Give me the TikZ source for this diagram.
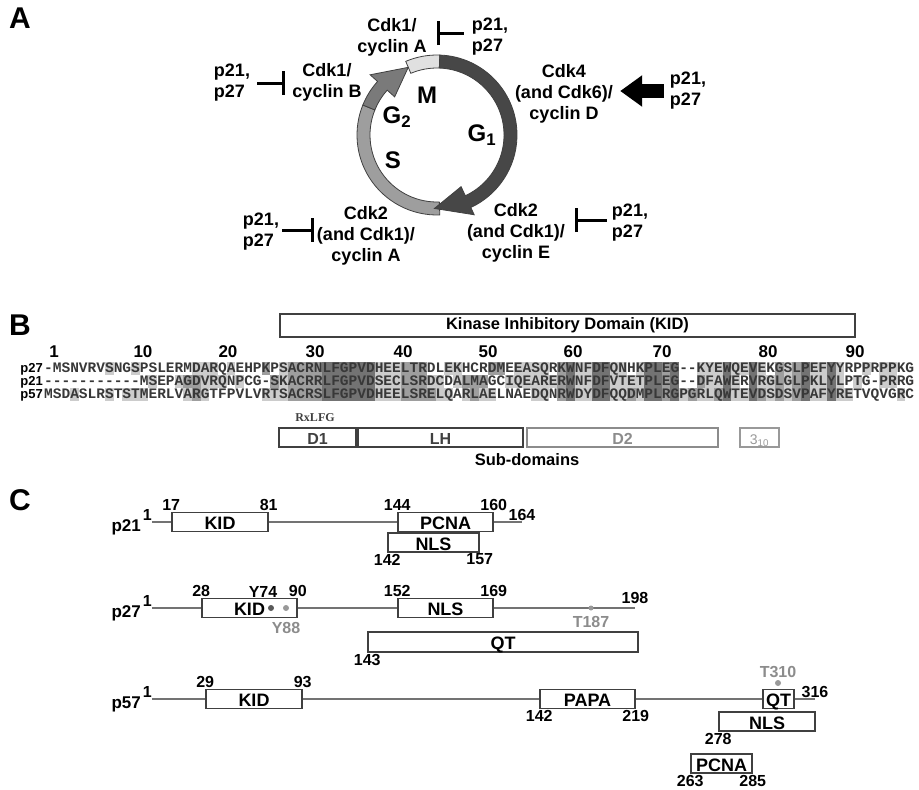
\documentclass[tikz,border=0pt]{standalone}
\usepackage{fontspec}
\setmainfont{Liberation Sans}
\newfontfamily\seqfont[Ligatures=TeXOff]{Liberation Mono}
\newfontfamily\motiffont{Liberation Serif}
\usepackage{tikz}
\usetikzlibrary{arrows.meta,positioning,calc}

\begin{document}
\begin{tikzpicture}[x=1pt, y=1pt,
    panel/.style={font=\bfseries\fontsize{30}{30}\selectfont, inner sep=0pt},
    lbl/.style={font=\bfseries\fontsize{18}{21}\selectfont, align=center, inner sep=0pt},
    plbl/.style={lbl, align=left},
    phase/.style={font=\bfseries\fontsize{24}{24}\selectfont, inner sep=0pt},
    ring/.style={draw=black!75, line width=0.8pt},
    inh/.style={line width=3pt, -{Bar[width=24pt]}},
    act/.style={line width=14pt, -{Triangle[length=22pt, width=30pt]}},
    title/.style={font=\bfseries\fontsize{16.5}{16.5}\selectfont, inner sep=0pt},
    seq/.style={font=\seqfont\bfseries\fontsize{14.5}{14.5}\selectfont, text=black!78, inner sep=0pt},
    rowlbl/.style={font=\bfseries\fontsize{17}{17}\selectfont, inner sep=0pt},
    seqlbl/.style={font=\bfseries\fontsize{13}{13}\selectfont, inner sep=0pt},
    shA/.style={fill=black!20}, shB/.style={fill=black!38}, shC/.style={fill=black!55},
    kidbox/.style={draw=black!75, line width=1.5pt, minimum height=23pt, inner sep=0pt},
    subbox/.style={draw=#1, line width=1.3pt, text=#1, minimum height=19pt, inner sep=0pt,
      text height=14pt, text depth=0pt, font=\bfseries\fontsize{16}{16}\selectfont},
    chain/.style={line width=2pt, draw=black!55},
    dom/.style={draw=black!75, line width=1.5pt, fill=white, minimum height=19pt, inner sep=0pt,
      text height=15pt, text depth=0pt, font=\bfseries\fontsize{18}{18}\selectfont},
    num/.style={font=\bfseries\fontsize{16}{16}\selectfont, inner sep=1pt},
    site/.style={circle, fill=black!40, inner sep=0pt, minimum size=6pt},
    sitelbl/.style={num, text=black!45}]
  \useasboundingbox (0,0) rectangle (919,-790);

  % ---------- A: cell cycle ----------
  \node[panel] (la) at (20,-18) {A};
  \coordinate (cc) at (437,-135);
  \begin{scope}[shift={(cc)}]
    \filldraw[ring, fill=black!38] (272:80) arc[start angle=272, end angle=158, radius=80]
      -- (158:67) arc[start angle=158, end angle=272, radius=67] -- cycle;
    \filldraw[ring, fill=black!12] (113:80) arc[start angle=113, end angle=88, radius=80]
      -- (88:67) arc[start angle=88, end angle=113, radius=67] -- cycle;
    \filldraw[ring, fill=black!52] (158:80) arc[start angle=158, end angle=138, radius=80]
      -- (138:90) -- (113:73.5) -- (138:57) -- (138:67)
      arc[start angle=138, end angle=158, radius=67] -- cycle;
    \filldraw[ring, fill=black!72] (88:80) arc[start angle=88, end angle=-65, radius=80]
      -- (-65:88) -- (-92:73.5) -- (-65:57) -- (-65:67)
      arc[start angle=-65, end angle=88, radius=67] -- cycle;
  \end{scope}
  \node[phase] (phM)  at (427,-95)  {M};
  \node[phase] (phG2) at (397,-117) {G\textsubscript{2}};
  \node[phase] (phG1) at (482,-135) {G\textsubscript{1}};
  \node[phase] (phS)  at (393,-160) {S};

  \node[lbl]  (cdkA)  at (392,-37)  {Cdk1/\\cyclin A};
  \node[plbl] (pA)    at (490,-37)  {p21,\\p27};
  \node[lbl]  (cdkB)  at (327,-82)  {Cdk1/\\cyclin B};
  \node[plbl] (pB)    at (232,-83)  {p21,\\p27};
  \node[lbl]  (cdkD)  at (564,-94)  {Cdk4\\(and Cdk6)/\\cyclin D};
  \node[plbl] (pD)    at (688,-91)  {p21,\\p27};
  \node[lbl]  (cdkE)  at (516,-233) {Cdk2\\(and Cdk1)/\\cyclin E};
  \node[plbl] (pE)    at (630,-223) {p21,\\p27};
  \node[lbl]  (cdkA2) at (366,-236) {Cdk2\\(and Cdk1)/\\cyclin A};
  \node[plbl] (pA2)   at (261,-232) {p21,\\p27};

  \draw[inh, shorten <=8pt, shorten >=10pt] ([yshift=4pt]pA.west) -- ([yshift=4pt]pA.west -| cdkA.east);
  \draw[inh, shorten <=7pt, shorten >=7pt] (pB.east) -- (pB.east -| cdkB.west);
  \draw[act, shorten <=6pt, shorten >=7pt] (pD.west) -- (pD.west -| cdkD.east);
  \draw[inh, shorten <=5pt, shorten >=10pt] ([yshift=3pt]pE.west) -- ([yshift=3pt]pE.west -| cdkE.east);
  \draw[inh, shorten <=3pt, shorten >=3pt] ([yshift=2pt]pA2.east) -- ([yshift=2pt]pA2.east -| cdkA2.west);

  % ---------- B: alignment ----------
  \node[panel] (lb) at (20,-325) {B};
  \node[kidbox, minimum width=575pt, title] (kid) at (567.5,-325.5) {Kinase Inhibitory Domain (KID)};
  \foreach \n/\xx in {1/54,10/143,20/228,30/315,40/403,50/488,60/573,70/662,80/768,90/855}
    \node[rowlbl] (r\n) at (\xx,-352) {\n};

  % shading, light and medium per row, dark over all rows
  \foreach \yt/\cols in {361.5/{8,11,18,19,20,22,28,39,40,41,47,48,55,56,57,58,62,63,66,67,69,76,77,78,80,81,83,86,89,90,92,95,97,98},
      374.5/{13,16,19,20,21,23,28,39,40,41,45,46,48,54,55,56,57,58,59,62,63,66,67,68,69,77,78,80,83,84,86,89,90,92,94,97,98},
      387.5/{4,8,10,11,12,17,19,26,27,28,39,40,41,46,47,49,51,52,57,58,62,63,66,67,69,74,76,77,80,81,84,86,89,90,92,93,99}}
    \foreach \c in \cols
      \fill[shA] ({44+(\c-1)*8.7},-\yt) rectangle ++(8.7,-13);
  \foreach \yt/\cols in {361.5/{26,29,30,31,32,42,43,44,52,53,60,72,85,87},
      374.5/{17,18,27,29,30,31,32,42,43,44,49,50,51,60,72,76,85,87},
      387.5/{18,29,30,31,32,42,43,44,45,50,60,68,72,75,78,83,85,87}}
    \foreach \c in \cols
      \fill[shB] ({44+(\c-1)*8.7},-\yt) rectangle ++(8.7,-13);
  \foreach \c in {33,34,35,36,37,38,61,64,65,70,71,73,79,82,88,91}
    \fill[shC] ({44+(\c-1)*8.7},-361.5) rectangle ++(8.7,-39);

  \node[seq, anchor=base west] (s27) at (44,-372.7) {-MSNVRVSNGSPSLERMDARQAEHPKPSACRNLFGPVDHEELTRDLEKHCRDMEEASQRKWNFDFQNHKPLEG--KYEWQEVEKGSLPEFYYRPPRPPKG};
  \node[seq, anchor=base west] (s21) at (44,-385.7) {-----------MSEPAGDVRQNPCG-SKACRRLFGPVDSECLSRDCDALMAGCIQEARERWNFDFVTETPLEG--DFAWERVRGLGLPKLYLPTG-PRRG};
  \node[seq, anchor=base west] (s57) at (44,-398.7) {MSDASLRSTSTMERLVARGTFPVLVRTSACRSLFGPVDHEELSRELQARLAELNAEDQNRWDYDFQQDMPLRGPGRLQWTEVDSDSVPAFYRETVQVGRC};
  \node[seqlbl, anchor=base east] (l27) at ([xshift=-1pt]s27.base west) {p27};
  \node[seqlbl, anchor=base east] (l21) at ([xshift=-1pt]s21.base west) {p21};
  \node[seqlbl, anchor=base east] (l57) at ([xshift=-1pt]s57.base west) {p57};

  \node[font=\motiffont\bfseries\fontsize{12}{12}\selectfont, text=black!75] (motif) at (315,-418) {RxLFG};
  \node[subbox=black!75, minimum width=77pt]  (d1) at (317.5,-437.5) {D1};
  \node[subbox=black!75, minimum width=165pt] (lh) at (440.5,-437.5) {LH};
  \node[subbox=black!45, minimum width=191pt] (d2) at (622.5,-437.5) {D2};
  \node[subbox=black!40, minimum width=39pt, font=\fontsize{14}{14}\selectfont] (h310) at (759.5,-437.5) {3\textsubscript{10}};
  \node[title] (subd) at (527,-460) {Sub-domains};

  % ---------- C: domain maps ----------
  \node[panel] (lc) at (20,-500) {C};

  % p21
  \coordinate (p21s) at (152,-522);
  \coordinate (p21e) at (522,-522);
  \draw[chain] (p21s) -- (p21e);
  \node[num, anchor=east, font=\bfseries\fontsize{17}{17}\selectfont] (p21lbl) at (142,-527) {p21};
  \node[num, anchor=south east] (p21one) at ([xshift=1pt]p21s) {1};
  \node[num, anchor=south] (p21end) at (p21e) {164};
  \node[dom, minimum width=96pt] (p21kid)  at (220,-522)    {KID};
  \node[dom, minimum width=95pt] (p21pcna) at (445.5,-522)  {PCNA};
  \node[dom, minimum width=91pt] (p21nls)  at (433.5,-542.5) {NLS};
  \node[num, above] (p21a) at (p21kid.north west) {17};
  \node[num, above] (p21b) at (p21kid.north east) {81};
  \node[num, above] (p21c) at (p21pcna.north west) {144};
  \node[num, above] (p21d) at (p21pcna.north east) {160};
  \node[num, below] (p21f) at (p21nls.south west) {142};
  \node[num, below] (p21g) at (p21nls.south east) {157};

  % p27
  \coordinate (p27s) at (152,-608);
  \coordinate (p27e) at (635,-608);
  \draw[chain] (p27s) -- (p27e);
  \node[num, anchor=east, font=\bfseries\fontsize{17}{17}\selectfont] (p27lbl) at (142,-613) {p27};
  \node[num, anchor=south east] (p27one) at ([xshift=1pt]p27s) {1};
  \node[num, anchor=south, yshift=3pt] (p27end) at (p27e) {198};
  \node[dom, minimum width=95pt] (p27kid) at (249.5,-608) {KID\hspace{22pt}};
  \node[dom, minimum width=95pt] (p27nls) at (445.5,-608) {NLS};
  \node[dom, minimum width=270pt, minimum height=20pt] (p27qt) at (503,-642) {QT};
  \node[num, above] (p27a) at (p27kid.north west) {28};
  \node[num, above] (p27b) at (p27kid.north east) {90};
  \node[num] (y74lbl) at (263,-592) {Y74};
  \node[site, fill=black!65] (y74) at (271,-608) {};
  \node[site] (y88) at (286,-608) {};
  \node[sitelbl, below=10pt of y88] (y88lbl) {Y88};
  \node[num, above] (p27c) at (p27nls.north west) {152};
  \node[num, above] (p27d) at (p27nls.north east) {169};
  \node[site, minimum size=5pt] (t187) at (591,-608) {};
  \node[sitelbl, below=4pt of t187] (t187lbl) {T187};
  \node[num, below] (p27f) at (p27qt.south west) {143};

  % p57
  \coordinate (p57s) at (152,-699);
  \coordinate (p57e) at (815,-699);
  \draw[chain] (p57s) -- (p57e);
  \node[num, anchor=east, font=\bfseries\fontsize{17}{17}\selectfont] (p57lbl) at (142,-704) {p57};
  \node[num, anchor=south east] (p57one) at ([xshift=1pt]p57s) {1};
  \node[num, anchor=south] (p57end) at (p57e) {316};
  \node[dom, minimum width=96pt] (p57kid)  at (254,-699)    {KID};
  \node[dom, minimum width=95pt] (p57papa) at (587.5,-699)  {PAPA};
  \node[dom, minimum width=31pt] (p57qt)   at (778.5,-699)  {QT};
  \node[dom, minimum width=96pt] (p57nls)  at (767,-721.5)  {NLS};
  \node[dom, minimum width=61pt] (p57pcna) at (721.5,-763.5) {PCNA};
  \node[num, above] (p57a) at (p57kid.north west) {29};
  \node[num, above] (p57b) at (p57kid.north east) {93};
  \node[num, below] (p57c) at (p57papa.south west) {142};
  \node[num, below] (p57d) at (p57papa.south east) {219};
  \node[site] (t310) at (778,-683) {};
  \node[sitelbl, above=1pt of t310] (t310lbl) {T310};
  \node[num, below] (p57f) at (p57nls.south west) {278};
  \node[num, below] (p57g) at (p57pcna.south west) {263};
  \node[num, below] (p57h) at (p57pcna.south east) {285};
\end{tikzpicture}
\end{document}
